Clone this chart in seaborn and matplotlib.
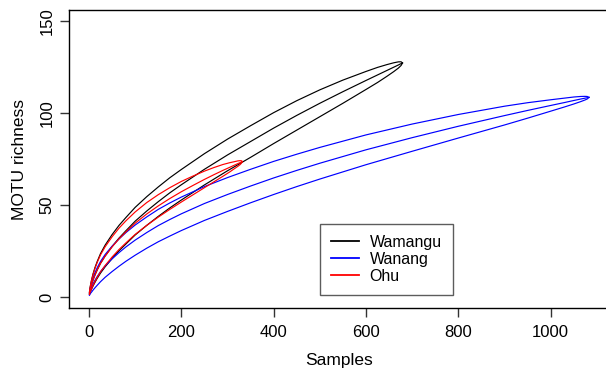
import numpy as np
import pandas as pd
import matplotlib
matplotlib.use("Agg")
import matplotlib.pyplot as plt
from matplotlib.lines import Line2D
import seaborn as sns

# Species accumulation curves (mean +/- 2 sd)
sites = ["Wamangu", "Wanang", "Ohu"]
site_colors = ["black", "blue", "red"]

wamangu_samples = [1, 2, 4, 6, 9, 13, 18, 25, 35, 50, 65, 80, 100, 125, 150, 175, 200,
                   250, 300, 350, 400, 450, 500, 550, 600, 625, 645, 660, 670, 676, 679]
wamangu_mean = [2, 3.4, 5.4, 7.1, 9.4, 12, 14.8, 18.3, 22.3, 27.4, 32, 36, 41.2, 46.7,
                51.8, 56.6, 61, 69.4, 77.2, 84.5, 91.8, 98.7, 105.3, 111.6, 117.7,
                120.7, 123.1, 124.9, 126.1, 126.85, 127.2]
wamangu_ci = [0.6, 1.2, 2, 2.6, 3.3, 4, 4.6, 5.3, 5.9, 6.5, 6.9, 7.2, 7.5, 7.8, 8, 8.2,
              8.3, 8.5, 8.6, 8.6, 8.4, 8, 7.3, 6.3, 4.9, 4.1, 3.2, 2.4, 1.7, 1, 0]

wanang_samples = [1, 2, 4, 6, 9, 13, 18, 25, 35, 50, 65, 80, 100, 125, 150, 175, 200,
                  250, 300, 350, 400, 450, 500, 600, 700, 800, 900, 950, 1000, 1030,
                  1050, 1065, 1074, 1079, 1083]
wanang_mean = [1.5, 2.6, 4.2, 5.5, 7.2, 9.1, 11.2, 13.8, 16.9, 20.7, 24.1, 27.2, 30.9,
               35, 38.8, 42.1, 45.2, 50.8, 55.7, 60.3, 64.7, 68.8, 72.7, 80, 86.6, 92.8,
               98.6, 101.4, 104.1, 105.7, 106.8, 107.6, 108.05, 108.3, 108.5]
wanang_ci = [0.6, 1.2, 2, 2.7, 3.4, 4.1, 4.8, 5.5, 6.2, 6.9, 7.4, 7.8, 8.2, 8.5, 8.8, 9,
             9.1, 9.2, 9.2, 9.1, 9, 8.8, 8.6, 8.1, 7.4, 6.4, 5.1, 4.2, 3.1, 2.4, 1.9,
             1.4, 1, 0.7, 0]

ohu_samples = [1, 2, 4, 6, 9, 13, 18, 25, 35, 50, 65, 80, 100, 125, 150, 175, 200, 225,
               250, 270, 290, 305, 315, 322, 327, 330, 332]
ohu_mean = [2, 3.4, 5.4, 7.1, 9.4, 12, 14.8, 18.3, 22.2, 27.2, 31.6, 35.4, 40.1, 45.1,
            49.5, 53.5, 57.2, 60.6, 63.9, 66.4, 68.8, 70.5, 71.65, 72.45, 73, 73.37, 73.6]
ohu_ci = [0.6, 1.1, 1.8, 2.4, 3, 3.6, 4.1, 4.6, 5.1, 5.5, 5.8, 6, 6.1, 6.2, 6.1, 5.9,
          5.6, 5.1, 4.5, 3.9, 3.2, 2.5, 1.9, 1.5, 1.1, 0.7, 0]

x_ticks = [0, 200, 400, 600, 800, 1000]
y_ticks = [0, 50, 100, 150]

plt.rcParams["font.family"] = ["Liberation Sans", "DejaVu Sans"]

# long table: one row per point, one "unit" per drawn line
rows = []
for site, s, m, c in zip(sites,
                         [wamangu_samples, wanang_samples, ohu_samples],
                         [wamangu_mean, wanang_mean, ohu_mean],
                         [wamangu_ci, wanang_ci, ohu_ci]):
    s = np.array(s)
    m = np.array(m)
    c = np.array(c)
    for line, vals in [("upper", m + c), ("mean", m), ("lower", m - c)]:
        for xi, yi in zip(s, vals):
            rows.append((site, line, xi, yi))
df = pd.DataFrame(rows, columns=["site", "line", "samples", "richness"])

fig = plt.figure(figsize=(6.06, 3.73), dpi=100)
ax = fig.add_axes([69 / 606, 65 / 373, 540 / 606, 298 / 373])

sns.lineplot(data=df, x="samples", y="richness", hue="site", units="line",
             estimator=None, sort=False, palette=dict(zip(sites, site_colors)),
             hue_order=sites, linewidth=0.85, legend=False, ax=ax)

ax.set_xlim(-43.3, 1126.3)
ax.set_ylim(-6, 156)
ax.set_xticks(x_ticks)
ax.set_yticks(y_ticks)
ax.set_xlabel("")
ax.set_ylabel("")
for sp in ax.spines.values():
    sp.set_color("black")
    sp.set_linewidth(1.0)
ax.tick_params(axis="both", length=6.5, width=1.0, color="#333333", labelsize=12)
ax.tick_params(axis="x", pad=6)
ax.tick_params(axis="y", pad=4)
for lab in ax.get_yticklabels():
    lab.set_rotation(90)
    lab.set_va("center")

fig.text(339 / 606, (373 - 365) / 373, "Samples", ha="center", va="baseline", fontsize=12.5)
fig.text(20 / 606, 1 - 159.5 / 373, "MOTU richness", ha="center", va="center",
         rotation=90, fontsize=12.5)

handles = [Line2D([], [], color=c, lw=1.3) for c in site_colors]
leg = ax.legend(handles, sites, loc="lower left",
                bbox_to_anchor=(320 / 606, 78 / 373), bbox_transform=fig.transFigure,
                borderaxespad=0, fontsize=11.5, frameon=True, fancybox=False,
                handlelength=1.75, handletextpad=0.65, labelspacing=0.12,
                borderpad=0.7)
leg.get_frame().set_edgecolor("#333333")
leg.get_frame().set_linewidth(1.0)

fig.savefig("out.png", dpi=100)
